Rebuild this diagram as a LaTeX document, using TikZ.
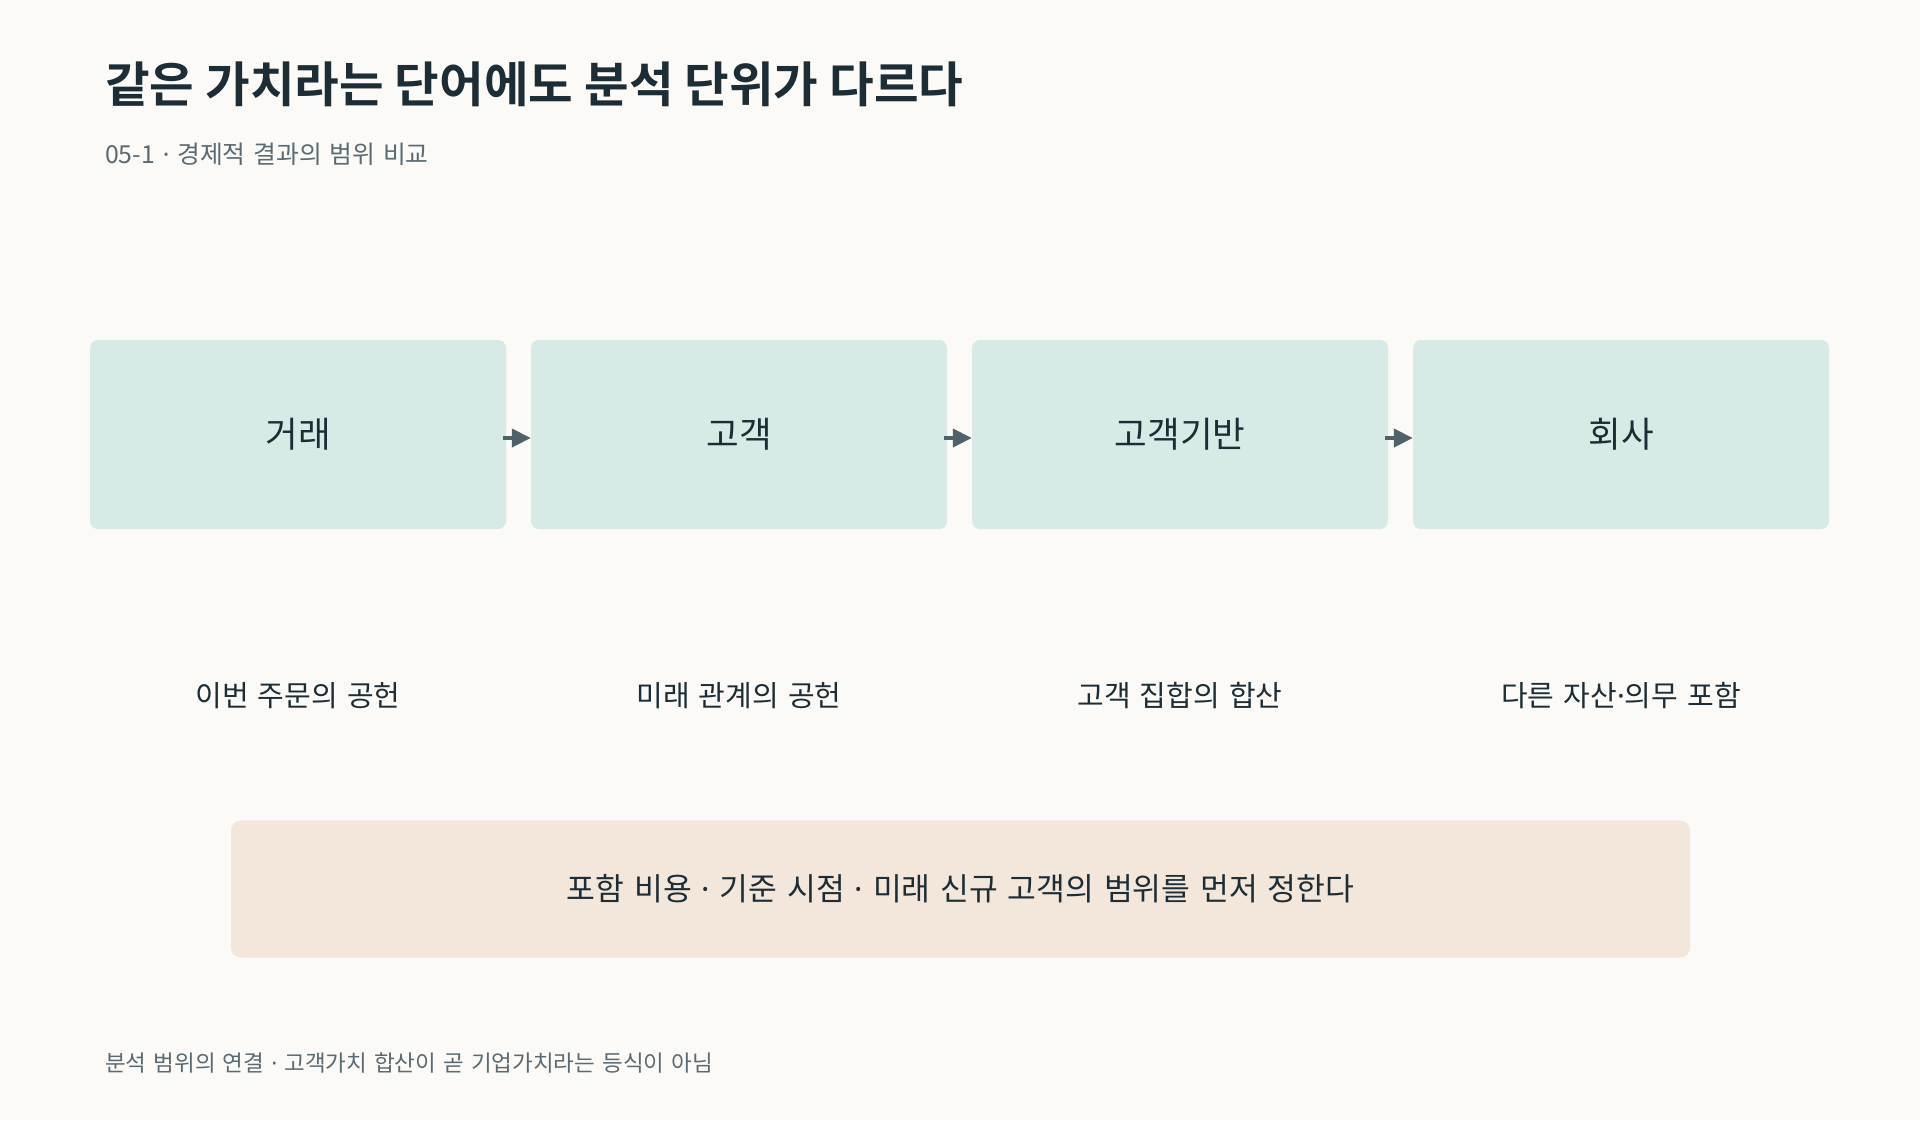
\documentclass[tikz,border=0pt]{standalone}
\usepackage{fontspec}
\newfontfamily\kr[WordSpace=1.4]{Noto Sans CJK KR}
\newfontfamily\krb{Noto Sans CJK KR Bold}
\newfontfamily\latn{Noto Sans}
\newcommand\mdt{{\latn ·}}
\usetikzlibrary{arrows.meta}
\definecolor{bgc}{HTML}{FBFAF7}
\definecolor{boxc}{HTML}{D7EAE5}
\definecolor{notec}{HTML}{F3E6DB}
\definecolor{inkc}{HTML}{1C2D35}
\definecolor{grayc}{HTML}{5A6A72}
\definecolor{arrc}{HTML}{4F6169}
\tikzset{
  stage/.style={fill=boxc, rounded corners=8pt, minimum width=416pt, minimum height=189pt, inner sep=0pt, text=inkc, font=\kr\fontsize{35.5}{42}\selectfont},
  lbl/.style={text=inkc, inner sep=0pt, font=\kr\fontsize{29}{34}\selectfont},
  flow/.style={draw=arrc, line width=4pt, -{Triangle[length=19pt,width=18pt]}, shorten <=-3pt},
}
\begin{document}
\begin{tikzpicture}[x=1pt,y=-1pt]
\fill[bgc] (0,0) rectangle (1920,1120);
\useasboundingbox (0,0) rectangle (1920,1120);
\node[anchor=west, inner sep=0pt, text=inkc, font=\krb\fontsize{48.5}{56}\selectfont] (title) at (105,84) {같은 가치라는 단어에도 분석 단위가 다르다};
\node[anchor=west, inner sep=0pt, text=grayc, font=\kr\fontsize{24.8}{30}\selectfont] (sub) at (105,154.5) {05-1 \mdt{} 경제적 결과의 범위 비교};
\node[stage] (s1) at (298,434.5) {거래};
\node[stage] (s2) at (739,434.5) {고객};
\node[stage] (s3) at (1180,434.5) {고객기반};
\node[stage] (s4) at (1621,434.5) {회사};
\draw[flow] ([yshift=-3.5pt]s1.east) -- ([yshift=-3.5pt]s2.west);
\draw[flow] ([yshift=-3.5pt]s2.east) -- ([yshift=-3.5pt]s3.west);
\draw[flow] ([yshift=-3.5pt]s3.east) -- ([yshift=-3.5pt]s4.west);
\node[lbl] (l1) at (298,696) {이번 주문의 공헌};
\node[lbl] (l2) at (739,696) {미래 관계의 공헌};
\node[lbl] (l3) at (1180,696) {고객 집합의 합산};
\node[lbl] (l4) at (1621,696) {다른 자산\mdt{}의무 포함};
\node[fill=notec, rounded corners=10pt, minimum width=1459pt, minimum height=137pt, inner sep=0pt, text=inkc, font=\kr\fontsize{31.3}{36}\selectfont] (note) at (960.5,889) {포함 비용 \mdt{} 기준 시점 \mdt{} 미래 신규 고객의 범위를 먼저 정한다};
\node[anchor=west, inner sep=0pt, text=grayc, font=\kr\fontsize{22.5}{28}\selectfont] (foot) at (105,1062.5) {분석 범위의 연결 \mdt{} 고객가치 합산이 곧 기업가치라는 등식이 아님};
\end{tikzpicture}
\end{document}
